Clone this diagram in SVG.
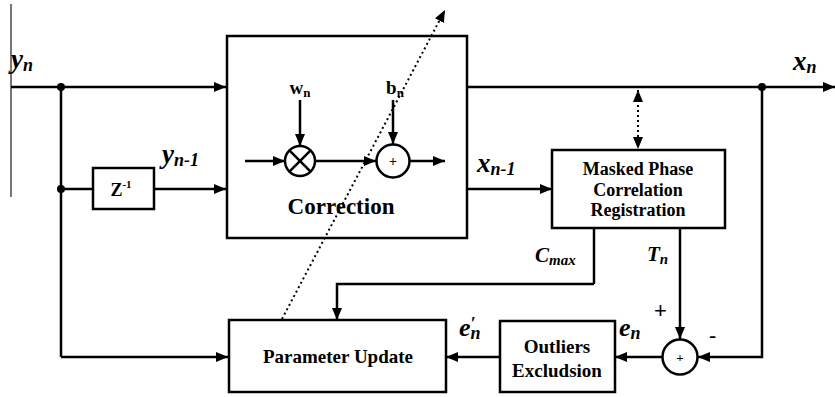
<svg xmlns="http://www.w3.org/2000/svg" width="835" height="397" viewBox="0 0 835 397">
<defs>
<marker id="ah" markerWidth="12" markerHeight="10" refX="12" refY="5" orient="auto" markerUnits="userSpaceOnUse">
<path d="M0,0 L12,5 L0,10 Z" fill="#000"/>
</marker>
<marker id="ahs" markerWidth="12" markerHeight="10" refX="12" refY="5" orient="auto-start-reverse" markerUnits="userSpaceOnUse">
<path d="M0,0 L12,5 L0,10 Z" fill="#000"/>
</marker>
</defs>
<rect width="835" height="397" fill="#fff"/>
<line x1="11" y1="4" x2="11" y2="197" stroke="#777" stroke-width="2"/>

<g id="connectors" fill="none" stroke="#000" stroke-width="2.5">
<line x1="11" y1="87" x2="226" y2="87" marker-end="url(#ah)"/>
<line x1="61" y1="87" x2="61" y2="357"/>
<line x1="61" y1="189" x2="93" y2="189"/>
<line x1="154" y1="189" x2="226" y2="189" marker-end="url(#ah)"/>
<line x1="61" y1="357" x2="228" y2="357" marker-end="url(#ah)"/>
<line x1="467" y1="87" x2="835" y2="87" marker-end="url(#ah)"/>
<line x1="467" y1="189" x2="552" y2="189" marker-end="url(#ah)"/>
<line x1="594" y1="228" x2="594" y2="284"/>
<polyline points="594,284 337,284 337,320" marker-end="url(#ah)"/>
<line x1="680" y1="228" x2="680" y2="339" marker-end="url(#ah)"/>
<polyline points="762,87 762,357 698,357" marker-end="url(#ah)"/>
<line x1="662" y1="357" x2="615" y2="357" marker-end="url(#ah)"/>
<line x1="500" y1="357" x2="446" y2="357" marker-end="url(#ah)"/>
<line x1="638" y1="90" x2="638" y2="149" stroke-width="2" stroke-dasharray="2 3" marker-start="url(#ahs)" marker-end="url(#ahs)"/>
<circle cx="61" cy="87" r="4" fill="#000" stroke="none"/>
<circle cx="61" cy="189" r="4" fill="#000" stroke="none"/>
<circle cx="762" cy="87" r="4" fill="#000" stroke="none"/>
</g>

<g id="correction">
<rect x="227" y="36" width="240" height="202" fill="#fff" stroke="#000" stroke-width="2.5"/>
<g fill="none" stroke="#000" stroke-width="2.5">
<line x1="245" y1="161" x2="285" y2="161" marker-end="url(#ah)"/>
<line x1="300" y1="100" x2="300" y2="146" marker-end="url(#ah)"/>
<circle cx="300" cy="161" r="15" fill="#fff"/>
<line x1="289.4" y1="150.4" x2="310.6" y2="171.6"/>
<line x1="310.6" y1="150.4" x2="289.4" y2="171.6"/>
<line x1="315" y1="161" x2="376" y2="161" marker-end="url(#ah)"/>
<line x1="393" y1="100" x2="393" y2="144" marker-end="url(#ah)"/>
<circle cx="393" cy="161" r="16.5" fill="#fff"/>
<line x1="410" y1="161" x2="445" y2="161" marker-end="url(#ah)"/>
</g>
<text style="font-family:Times New Roman;font-weight:bold" x="393" y="166" font-size="14" text-anchor="middle">+</text>
<text style="font-family:Times New Roman;font-weight:bold" x="300" y="94" font-size="19" text-anchor="middle">w<tspan font-size="13" dy="3">n</tspan></text>
<text style="font-family:Times New Roman;font-weight:bold" x="395" y="94" font-size="19" text-anchor="middle">b<tspan font-size="13" dy="3">n</tspan></text>
<text style="font-family:Times New Roman;font-weight:bold" x="341" y="214" font-size="23" text-anchor="middle">Correction</text>
</g>

<g id="delay">
<rect x="93" y="168" width="61" height="41" fill="#fff" stroke="#000" stroke-width="2.5"/>
<text style="font-family:Times New Roman;font-weight:bold" x="121" y="196" font-size="18" text-anchor="middle">Z<tspan font-size="11" dy="-8">-1</tspan></text>
</g>

<g id="mpcr">
<rect x="552" y="150" width="173" height="78" fill="#fff" stroke="#000" stroke-width="2.5"/>
<text style="font-family:Times New Roman;font-weight:bold" x="638" y="175" font-size="18" text-anchor="middle">Masked Phase</text>
<text style="font-family:Times New Roman;font-weight:bold" x="638" y="196" font-size="18" text-anchor="middle">Correlation</text>
<text style="font-family:Times New Roman;font-weight:bold" x="638" y="216" font-size="18" text-anchor="middle">Registration</text>
</g>

<g id="param">
<rect x="229" y="320" width="217" height="72" fill="#fff" stroke="#000" stroke-width="2.5"/>
<text style="font-family:Times New Roman;font-weight:bold" x="338" y="363" font-size="19" text-anchor="middle">Parameter Update</text>
</g>

<g id="outliers">
<rect x="500" y="321" width="115" height="71" fill="#fff" stroke="#000" stroke-width="2.5"/>
<text style="font-family:Times New Roman;font-weight:bold" x="557" y="353" font-size="19" text-anchor="middle">Outliers</text>
<text style="font-family:Times New Roman;font-weight:bold" x="557" y="377" font-size="19" text-anchor="middle">Excludsion</text>
</g>

<g id="sum">
<circle cx="680" cy="357" r="17.5" fill="#fff" stroke="#000" stroke-width="2.5"/>
<text style="font-family:Times New Roman;font-weight:bold" x="680" y="362" font-size="13" text-anchor="middle">+</text>
</g>

<g id="dotted-connector" fill="none" stroke="#000">
<line x1="282" y1="319" x2="445" y2="10" stroke-width="2" stroke-dasharray="2 3" marker-end="url(#ah)"/>
</g>

<g id="labels">
<text style="font-family:Times New Roman;font-weight:bold;font-style:italic" x="11" y="68" font-size="27">y<tspan font-size="18" dy="3">n</tspan></text>
<text style="font-family:Times New Roman;font-weight:bold;font-style:italic" x="162" y="163" font-size="27">y<tspan font-size="18" dy="3">n-1</tspan></text>
<text style="font-family:Times New Roman;font-weight:bold;font-style:italic" x="793" y="70" font-size="27">x<tspan font-size="18" dy="3">n</tspan></text>
<text style="font-family:Times New Roman;font-weight:bold;font-style:italic" x="477" y="172" font-size="27">x<tspan font-size="18" dy="3">n-1</tspan></text>
<text style="font-family:Times New Roman;font-weight:bold;font-style:italic" x="535" y="262" font-size="21">C<tspan font-size="15" dy="3">max</tspan></text>
<text style="font-family:Times New Roman;font-weight:bold;font-style:italic" x="647" y="261" font-size="21">T<tspan font-size="15" dy="3">n</tspan></text>
<text style="font-family:Times New Roman;font-weight:bold;font-style:italic" x="619" y="336" font-size="26">e<tspan font-size="18" dy="3">n</tspan></text>
<text style="font-family:Times New Roman;font-weight:bold;font-style:italic" x="459" y="336" font-size="26">e<tspan font-size="18" dy="-6">′</tspan><tspan font-size="18" dx="-5" dy="9">n</tspan></text>
<text style="font-family:Liberation Sans" font-size="22" x="654" y="318">+</text>
<text style="font-family:Liberation Sans" font-size="22" x="709" y="343">-</text>
</g>
</svg>
